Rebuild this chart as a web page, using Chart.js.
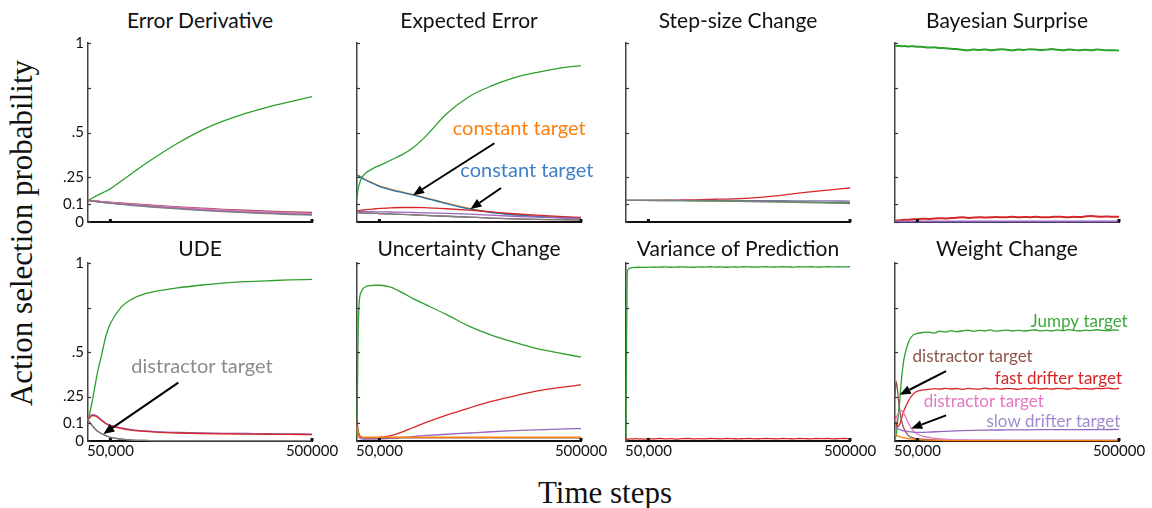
<!DOCTYPE html>
<html>
<head>
<meta charset="utf-8">
<script src="https://cdn.jsdelivr.net/npm/chart.js@4.4.0/dist/chart.umd.min.js"></script>
<style>
  body { margin: 0; width: 1152px; height: 508px; background: #fff; position: relative; overflow: hidden; }
  canvas { position: absolute; }
  .ttl { position: absolute; width: 300px; text-align: center; font-family: Lato, sans-serif; font-size: 21px; color: #111; line-height: 26px; white-space: nowrap; }
  .axl { position: absolute; font-family: "Liberation Serif", serif; font-size: 31px; color: #111; white-space: nowrap; transform: translate(-50%, -50%); }
</style>
</head>
<body>
<div class="axl" style="left:22px;top:233px;transform:translate(-50%,-50%) rotate(-90deg)">Action selection probability</div>
<div class="axl" style="left:605px;top:493px">Time steps</div>
<script>
// time axis (dense at the start, where most curves move fast)
const TIME = [0, 2500, 5000, 10000, 15000, 20000, 30000, 40000, 50000, 75000, 100000, 125000, 150000, 200000, 250000, 300000, 350000, 400000, 450000, 500000];
// finer grid for the noisy traces
const TIME_N = [0, 2500, 5000, 10000, 15000, 20000, 30000, 40000, 50000, 62500, 75000, 87500, 100000, 112500, 125000, 137500, 150000, 162500, 175000, 187500, 200000, 212500, 225000, 237500, 250000, 262500, 275000, 287500, 300000, 312500, 325000, 337500, 350000, 362500, 375000, 387500, 400000, 412500, 425000, 437500, 450000, 462500, 475000, 487500, 500000];

const PANEL_TITLES = ["Error Derivative", "Expected Error", "Step-size Change", "Bayesian Surprise", "UDE", "Uncertainty Change", "Variance of Prediction", "Weight Change"];
const Y_TICKS = [0, 0.1, 0.25, 0.5, 0.75, 1];
const Y_TICK_LABELS = ["0", "0.1", ".25", ".5", "", "1"];
const X_TICKS = [50000, 500000];
const X_TICK_LABELS = ["50,000", "500000"];

// Error Derivative
const ED_GREEN  = [0.12, 0.123, 0.127, 0.134, 0.141, 0.148, 0.16, 0.172, 0.185, 0.23, 0.275, 0.32, 0.362, 0.44, 0.508, 0.562, 0.606, 0.641, 0.671, 0.70];
const ED_BROWN  = [0.12, 0.12, 0.119, 0.118, 0.117, 0.116, 0.114, 0.112, 0.11, 0.106, 0.101, 0.097, 0.093, 0.085, 0.078, 0.071, 0.066, 0.061, 0.057, 0.053];
const ED_RED    = [0.12, 0.12, 0.119, 0.118, 0.117, 0.116, 0.113, 0.111, 0.109, 0.104, 0.099, 0.094, 0.09, 0.082, 0.075, 0.068, 0.062, 0.057, 0.052, 0.048];
const ED_PURPLE = [0.12, 0.119, 0.118, 0.117, 0.115, 0.114, 0.111, 0.108, 0.106, 0.1, 0.095, 0.09, 0.085, 0.076, 0.068, 0.061, 0.055, 0.05, 0.045, 0.041];
const ED_GRAY   = [0.12, 0.119, 0.118, 0.116, 0.115, 0.113, 0.11, 0.107, 0.104, 0.098, 0.092, 0.087, 0.082, 0.073, 0.065, 0.058, 0.052, 0.047, 0.042, 0.038];

// Expected Error
const EE_GREEN  = [0.13, 0.185, 0.21, 0.245, 0.262, 0.275, 0.29, 0.305, 0.315, 0.345, 0.375, 0.415, 0.47, 0.605, 0.70, 0.76, 0.805, 0.835, 0.858, 0.874];
const EE_ORANGE = [0.265, 0.262, 0.258, 0.25, 0.243, 0.236, 0.224, 0.213, 0.202, 0.183, 0.168, 0.154, 0.138, 0.105, 0.076, 0.055, 0.042, 0.033, 0.027, 0.022];
const EE_BLUE   = [0.262, 0.259, 0.255, 0.247, 0.24, 0.233, 0.221, 0.21, 0.199, 0.18, 0.165, 0.151, 0.135, 0.102, 0.073, 0.053, 0.04, 0.031, 0.025, 0.02];
const EE_RED    = [0.062, 0.063, 0.064, 0.066, 0.067, 0.069, 0.071, 0.074, 0.076, 0.079, 0.081, 0.081, 0.08, 0.074, 0.066, 0.056, 0.046, 0.038, 0.031, 0.026];
const EE_PURPLE = [0.058, 0.058, 0.058, 0.058, 0.058, 0.058, 0.058, 0.057, 0.057, 0.056, 0.055, 0.053, 0.051, 0.048, 0.044, 0.038, 0.032, 0.027, 0.023, 0.02];
const EE_GRAY   = [0.052, 0.052, 0.051, 0.051, 0.05, 0.05, 0.049, 0.048, 0.047, 0.045, 0.043, 0.04, 0.037, 0.032, 0.027, 0.022, 0.018, 0.015, 0.013, 0.011];

// Step-size Change
const SS_RED    = [0.121, 0.121, 0.121, 0.121, 0.121, 0.121, 0.121, 0.121, 0.121, 0.121, 0.122, 0.123, 0.124, 0.127, 0.131, 0.138, 0.15, 0.165, 0.178, 0.19];
const SS_PURPLE = [0.121, 0.121, 0.121, 0.121, 0.121, 0.121, 0.121, 0.121, 0.121, 0.121, 0.121, 0.121, 0.12, 0.12, 0.12, 0.119, 0.119, 0.118, 0.118, 0.117];
const SS_GREEN  = [0.121, 0.121, 0.121, 0.121, 0.121, 0.121, 0.121, 0.121, 0.121, 0.12, 0.12, 0.119, 0.119, 0.118, 0.117, 0.115, 0.114, 0.112, 0.11, 0.108];
const SS_GRAY   = [0.121, 0.121, 0.121, 0.121, 0.121, 0.121, 0.121, 0.121, 0.12, 0.12, 0.119, 0.119, 0.118, 0.117, 0.115, 0.113, 0.111, 0.108, 0.106, 0.103];

// Bayesian Surprise (noisy, on TIME_N)
const BS_GREEN = [0.984, 0.985, 0.983, 0.984, 0.982, 0.983, 0.981, 0.982, 0.979, 0.978, 0.975, 0.976, 0.972, 0.971, 0.968, 0.966, 0.962, 0.959, 0.963, 0.961, 0.964, 0.960, 0.962, 0.965, 0.962, 0.960, 0.963, 0.961, 0.965, 0.964, 0.961, 0.963, 0.966, 0.962, 0.960, 0.963, 0.961, 0.959, 0.962, 0.960, 0.963, 0.961, 0.959, 0.960, 0.958];
const BS_RED   = [0.005, 0.006, 0.008, 0.009, 0.011, 0.012, 0.013, 0.015, 0.016, 0.018, 0.017, 0.02, 0.021, 0.02, 0.022, 0.024, 0.026, 0.023, 0.025, 0.027, 0.025, 0.026, 0.028, 0.026, 0.027, 0.029, 0.026, 0.028, 0.027, 0.029, 0.027, 0.026, 0.028, 0.03, 0.028, 0.027, 0.029, 0.028, 0.031, 0.033, 0.031, 0.03, 0.031, 0.029, 0.03];
const BS_PURPLE = [0.003, 0.003, 0.003, 0.003, 0.003, 0.003, 0.003, 0.003, 0.003, 0.003, 0.003, 0.003, 0.003, 0.003, 0.003, 0.003, 0.003, 0.003, 0.003, 0.003];

// UDE
const UDE_GREEN  = [0.12, 0.14, 0.17, 0.23, 0.3, 0.37, 0.48, 0.59, 0.66, 0.755, 0.8, 0.825, 0.84, 0.86, 0.875, 0.887, 0.895, 0.9, 0.905, 0.908];
const UDE_PURPLE = [0.12, 0.13, 0.14, 0.148, 0.147, 0.14, 0.12, 0.1, 0.088, 0.073, 0.063, 0.057, 0.053, 0.048, 0.045, 0.043, 0.042, 0.041, 0.04, 0.039];
const UDE_RED    = [0.12, 0.127, 0.135, 0.142, 0.141, 0.135, 0.116, 0.097, 0.085, 0.07, 0.06, 0.054, 0.05, 0.045, 0.042, 0.04, 0.039, 0.038, 0.037, 0.036];
const UDE_BROWN  = [0.12, 0.11, 0.1, 0.085, 0.07, 0.058, 0.042, 0.03, 0.02, 0.01, 0.005, 0.003, 0.002, 0.002, 0.002, 0.002, 0.002, 0.002, 0.002, 0.002];

// Uncertainty Change
const UC_GREEN  = [0.03, 0.6, 0.78, 0.84, 0.86, 0.868, 0.873, 0.875, 0.875, 0.865, 0.835, 0.80, 0.77, 0.71, 0.645, 0.595, 0.555, 0.52, 0.495, 0.471];
const UC_RED    = [0.1, 0.06, 0.035, 0.022, 0.018, 0.017, 0.017, 0.018, 0.02, 0.03, 0.05, 0.075, 0.1, 0.145, 0.185, 0.222, 0.252, 0.28, 0.3, 0.315];
const UC_PURPLE = [0.09, 0.04, 0.02, 0.012, 0.01, 0.01, 0.01, 0.011, 0.012, 0.015, 0.02, 0.025, 0.03, 0.038, 0.045, 0.052, 0.058, 0.063, 0.067, 0.07];
const UC_BROWN  = [0.12, 0.05, 0.025, 0.02, 0.018, 0.018, 0.018, 0.018, 0.018, 0.018, 0.018, 0.018, 0.018, 0.018, 0.018, 0.018, 0.018, 0.018, 0.018, 0.018];
const UC_ORANGE = [0.08, 0.04, 0.026, 0.022, 0.021, 0.021, 0.021, 0.021, 0.021, 0.021, 0.021, 0.021, 0.021, 0.021, 0.021, 0.021, 0.021, 0.021, 0.021, 0.021];

// Variance of Prediction (noisy, on TIME_N)
const VP_GREEN = [0.0, 0.93, 0.965, 0.972, 0.974, 0.975, 0.976, 0.975, 0.977, 0.976, 0.977, 0.978, 0.976, 0.977, 0.978, 0.977, 0.976, 0.978, 0.977, 0.979, 0.977, 0.978, 0.976, 0.978, 0.977, 0.979, 0.978, 0.977, 0.978, 0.979, 0.977, 0.978, 0.979, 0.978, 0.977, 0.979, 0.978, 0.979, 0.977, 0.978, 0.979, 0.978, 0.979, 0.978, 0.979];
const VP_RED   = [0.02, 0.008, 0.01, 0.012, 0.011, 0.013, 0.012, 0.011, 0.013, 0.012, 0.014, 0.012, 0.013, 0.011, 0.013, 0.014, 0.012, 0.013, 0.012, 0.014, 0.013, 0.012, 0.014, 0.013, 0.012, 0.013, 0.014, 0.012, 0.013, 0.014, 0.013, 0.012, 0.014, 0.013, 0.012, 0.014, 0.013, 0.012, 0.014, 0.013, 0.014, 0.012, 0.013, 0.014, 0.013];

// Weight Change
const WC_GREEN  = [0.01, 0.03, 0.09, 0.21, 0.36, 0.46, 0.555, 0.595, 0.605, 0.61, 0.612, 0.606, 0.617, 0.613, 0.62, 0.614, 0.618, 0.623, 0.616, 0.621, 0.618, 0.624, 0.617, 0.62, 0.623, 0.618, 0.622, 0.617, 0.621, 0.625, 0.619, 0.622, 0.618, 0.624, 0.62, 0.626, 0.621, 0.618, 0.623, 0.62, 0.625, 0.621, 0.619, 0.624, 0.622];
const WC_RED    = [0.14, 0.1, 0.08, 0.09, 0.13, 0.17, 0.225, 0.262, 0.28, 0.287, 0.29, 0.294, 0.291, 0.296, 0.292, 0.295, 0.29, 0.296, 0.293, 0.291, 0.297, 0.293, 0.295, 0.291, 0.296, 0.294, 0.29, 0.295, 0.293, 0.297, 0.292, 0.295, 0.291, 0.296, 0.294, 0.292, 0.297, 0.293, 0.295, 0.291, 0.296, 0.294, 0.297, 0.293, 0.295];
const WC_BROWN  = [0.25, 0.335, 0.3, 0.18, 0.11, 0.07, 0.03, 0.018, 0.012, 0.008, 0.005, 0.004, 0.004, 0.003, 0.003, 0.003, 0.003, 0.003, 0.003, 0.003];
const WC_PINK   = [0.11, 0.13, 0.145, 0.165, 0.17, 0.155, 0.1, 0.06, 0.038, 0.02, 0.012, 0.008, 0.006, 0.005, 0.004, 0.004, 0.004, 0.004, 0.004, 0.004];
const WC_PURPLE = [0.08, 0.075, 0.07, 0.065, 0.06, 0.057, 0.053, 0.05, 0.049, 0.05, 0.053, 0.056, 0.058, 0.061, 0.062, 0.063, 0.064, 0.064, 0.064, 0.065];
const WC_ORANGE = [0.04, 0.035, 0.03, 0.025, 0.02, 0.017, 0.013, 0.01, 0.008, 0.005, 0.003, 0.002, 0.002, 0.002, 0.002, 0.002, 0.002, 0.002, 0.002, 0.002];

const GREEN = "#2ca02c", RED = "#d62728", BROWN = "#8c564b", PURPLE = "#9467bd",
      ORANGE = "#ff7f0e", BLUE = "#1f77b4", PINK = "#e377c2", GRAY = "#7f7f7f";

// [x array, y array, colour]
const PANELS = [
  { lines: [[TIME, ED_GRAY, GRAY], [TIME, ED_PURPLE, PURPLE], [TIME, ED_RED, PINK], [TIME, ED_RED, RED], [TIME, ED_BROWN, BROWN], [TIME, ED_GREEN, GREEN]] },
  { lines: [[TIME, EE_GRAY, GRAY], [TIME, EE_GRAY, BROWN], [TIME, EE_PURPLE, PURPLE], [TIME, EE_RED, RED], [TIME, EE_BLUE, BLUE], [TIME, EE_ORANGE, ORANGE], [TIME, EE_GREEN, GREEN]],
    texts: [["constant target", 362000, 0.522, ORANGE, 20], ["constant target", 379000, 0.286, "#3f7fc6", 20]],
    arrows: [[306700, 0.44, 125100, 0.15], [321600, 0.19, 253300, 0.073]] },
  { lines: [[TIME, SS_GRAY, GRAY], [TIME, SS_GREEN, GREEN], [TIME, SS_PURPLE, PURPLE], [TIME, SS_RED, RED]] },
  { lines: [[TIME, BS_PURPLE, PURPLE], [TIME_N, BS_RED, RED], [TIME_N, BS_GREEN, GREEN]], width: 2 },
  { lines: [[TIME, UDE_BROWN, GRAY], [TIME, UDE_BROWN, BROWN], [TIME, UDE_RED, RED], [TIME, UDE_PURPLE, PURPLE], [TIME, UDE_PURPLE, "rgba(227,119,194,0.55)"], [TIME, UDE_GREEN, GREEN]],
    texts: [["distractor target", 254500, 0.42, "#8c8c8c", 20]],
    arrows: [[201600, 0.328, 34200, 0.039]] },
  { lines: [[TIME, UC_ORANGE, ORANGE], [TIME, UC_BROWN, BROWN], [TIME, UC_PURPLE, PURPLE], [TIME, UC_RED, RED], [TIME, UC_GREEN, GREEN]] },
  { lines: [[TIME_N, VP_RED, RED], [TIME_N, VP_GREEN, GREEN]] },
  { lines: [[TIME, WC_ORANGE, ORANGE], [TIME, WC_PURPLE, PURPLE], [TIME, WC_PINK, PINK], [TIME, WC_BROWN, BROWN], [TIME_N, WC_RED, RED], [TIME_N, WC_GREEN, GREEN]],
    texts: [["Jumpy target", 411000, 0.672, "#3da83d", 17], ["distractor target", 173300, 0.475, BROWN, 17],
            ["fast drifter target", 364700, 0.352, RED, 17], ["distractor target", 198000, 0.223, PINK, 17],
            ["slow drifter target", 353500, 0.107, "#a08ccf", 17]],
    arrows: [[114000, 0.392, 10400, 0.26], [114000, 0.144, 36200, 0.07]] }
];

const COL_LEFT = [88, 357, 626, 895];
const ROW_TOP = [40, 260];
const PLOT_H = [182, 181];
const PLOT_W = 224;
const TITLE_Y = [20, 248];

Chart.defaults.font.family = "Lato, sans-serif";
Chart.defaults.color = "#111";

// small inward tick marks, like the original
const tickMarks = {
  id: "tickMarks",
  afterDraw(chart) {
    const { ctx, chartArea: a, scales: { x, y } } = chart;
    ctx.save();
    ctx.strokeStyle = "#333";
    ctx.lineWidth = 1.2;
    Y_TICKS.forEach(v => {
      const py = Math.round(y.getPixelForValue(v)) + 0.5;
      ctx.beginPath(); ctx.moveTo(a.left, py); ctx.lineTo(a.left + 3, py); ctx.stroke();
    });
    ctx.fillStyle = "#111";
    X_TICKS.forEach(v => {
      const px = x.getPixelForValue(v);
      ctx.fillRect(px - 1.5, a.bottom - 3, 3, 3);
    });
    ctx.restore();
  }
};

function notes(texts, arrows) {
  return {
    id: "notes",
    afterDatasetsDraw(chart) {
      const { ctx, scales: { x, y } } = chart;
      ctx.save();
      (arrows || []).forEach(([t1, v1, t2, v2]) => {
        const x1 = x.getPixelForValue(t1), y1 = y.getPixelForValue(v1);
        const x2 = x.getPixelForValue(t2), y2 = y.getPixelForValue(v2);
        const ang = Math.atan2(y2 - y1, x2 - x1), L = 11, W = 4.5;
        const bx = x2 - L * Math.cos(ang), by = y2 - L * Math.sin(ang);
        ctx.strokeStyle = "#000"; ctx.fillStyle = "#000"; ctx.lineWidth = 2;
        ctx.beginPath(); ctx.moveTo(x1, y1); ctx.lineTo(bx, by); ctx.stroke();
        ctx.beginPath();
        ctx.moveTo(x2, y2);
        ctx.lineTo(bx + W * Math.sin(ang), by - W * Math.cos(ang));
        ctx.lineTo(bx - W * Math.sin(ang), by + W * Math.cos(ang));
        ctx.closePath(); ctx.fill();
      });
      (texts || []).forEach(([s, t, v, c, size]) => {
        ctx.font = size + "px Lato, sans-serif";
        ctx.fillStyle = c;
        ctx.textAlign = "center";
        ctx.textBaseline = "middle";
        ctx.fillText(s, x.getPixelForValue(t), y.getPixelForValue(v));
      });
      ctx.restore();
    }
  };
}

PANELS.forEach((p, i) => {
  const col = i % 4, row = Math.floor(i / 4);
  const title = document.createElement("div");
  title.className = "ttl";
  title.textContent = PANEL_TITLES[i];
  title.style.left = (COL_LEFT[col] + PLOT_W / 2 - 150) + "px";
  title.style.top = (TITLE_Y[row] - 13) + "px";
  document.body.appendChild(title);

  const cv = document.createElement("canvas");
  cv.width = 60 + PLOT_W + 30;
  cv.height = 10 + PLOT_H[row] + 30;
  cv.style.left = (COL_LEFT[col] - 60) + "px";
  cv.style.top = (ROW_TOP[row] - 10) + "px";
  document.body.appendChild(cv);

  new Chart(cv.getContext("2d"), {
    type: "line",
    data: {
      datasets: p.lines.map(([xs, ys, c]) => ({
        data: ys.map((v, k) => ({ x: xs[k], y: v })),
        borderColor: c,
        borderWidth: p.width || 1.3,
        pointRadius: 0,
        cubicInterpolationMode: "monotone",
        clip: 3
      }))
    },
    options: {
      responsive: false,
      animation: false,
      devicePixelRatio: 1,
      layout: { padding: { left: 0, right: 30, top: 10, bottom: 0 } },
      plugins: { legend: { display: false }, tooltip: { enabled: false } },
      scales: {
        x: {
          type: "linear", min: 0, max: 500000,
          afterBuildTicks: s => { s.ticks = X_TICKS.map(v => ({ value: v })); },
          afterFit: s => { s.height = 30; },
          grid: { display: false, drawTicks: false },
          border: { display: true, color: "#111", width: 2 },
          ticks: {
            maxRotation: 0, autoSkip: false, padding: 1,
            font: { size: 15 }, color: "#111",
            callback: v => row === 1 ? X_TICK_LABELS[X_TICKS.indexOf(v)] : ""
          }
        },
        y: {
          min: 0, max: 1,
          afterBuildTicks: s => { s.ticks = Y_TICKS.map(v => ({ value: v })); },
          afterFit: s => { s.width = 60; },
          grid: { display: false, drawTicks: false },
          border: { display: true, color: "#444", width: 1.5 },
          ticks: {
            padding: 4, font: { size: 15 }, color: "#111",
            callback: v => col === 0 ? Y_TICK_LABELS[Y_TICKS.indexOf(v)] : ""
          }
        }
      }
    },
    plugins: [tickMarks, notes(p.texts, p.arrows)]
  });
});
</script>
</body>
</html>
